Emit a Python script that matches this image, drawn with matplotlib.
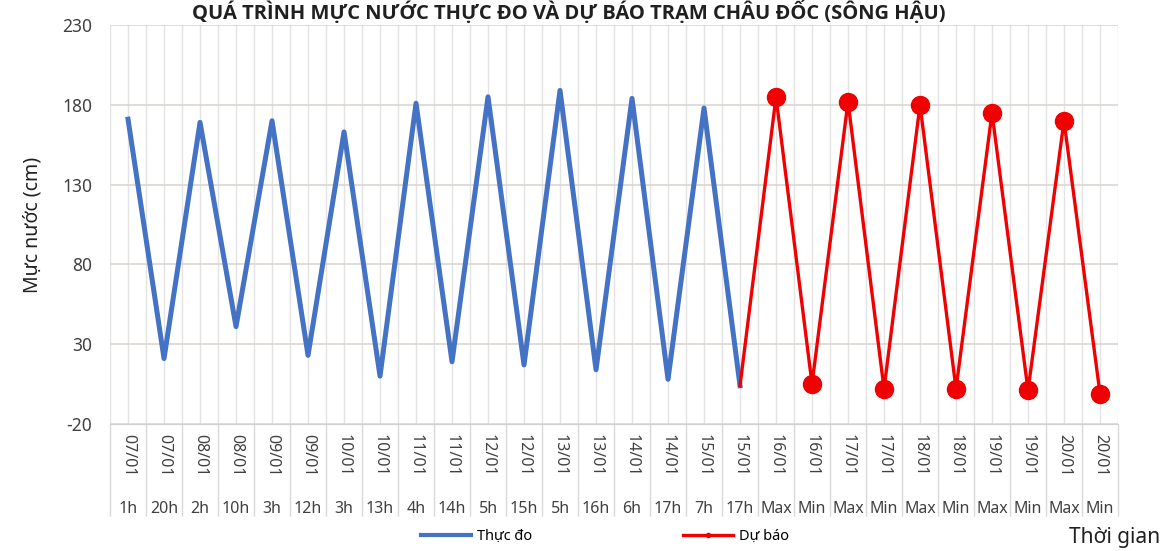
import numpy as np
import matplotlib.pyplot as plt
from matplotlib.lines import Line2D

plt.rcParams['font.family'] = ['Noto Sans', 'DejaVu Sans']
plt.rcParams['axes.unicode_minus'] = False

# categories: two level axis (date / hour)
dates = ['07/01', '07/01', '08/01', '08/01', '09/01', '09/01', '10/01', '10/01',
         '11/01', '11/01', '12/01', '12/01', '13/01', '13/01', '14/01', '14/01',
         '15/01', '15/01', '16/01', '16/01', '17/01', '17/01', '18/01', '18/01',
         '19/01', '19/01', '20/01', '20/01']
hours = ['1h', '20h', '2h', '10h', '3h', '12h', '3h', '13h', '4h', '14h', '5h', '15h',
         '5h', '16h', '6h', '17h', '7h', '17h', 'Max', 'Min', 'Max', 'Min', 'Max', 'Min',
         'Max', 'Min', 'Max', 'Min']

# observed water level (cm)
thuc_do = [171, 21, 169, 41, 170, 23, 163, 10, 181, 19, 185, 17, 189, 14, 184, 8, 178, 4]
# forecast water level (cm)
du_bao = [185, 5, 182, 2, 180, 2, 175, 1, 170, -1]

n_obs = len(thuc_do)
x_obs = np.arange(n_obs)
# forecast line starts from the last observed point
x_fc = np.arange(n_obs - 1, n_obs + len(du_bao))
y_fc = [thuc_do[-1]] + du_bao

fig = plt.figure(figsize=(11.68, 5.51), dpi=100)
ax = fig.add_axes([0.0942, 0.2305, 0.863, 0.7241])

ax.plot(x_obs, thuc_do, color='#4472C4', lw=3.6, solid_joinstyle='round', zorder=3)
ax.plot(x_fc, y_fc, color='#F00000', lw=2.4, marker='o', ms=13,
        markevery=list(range(1, len(y_fc))), zorder=4)

ax.set_xlim(-0.5, len(dates) - 0.5)
ax.set_ylim(-20, 230)
ax.set_yticks(np.arange(-20, 231, 50))

# boundaries as major ticks (long divider lines), centres as minor ticks carrying dates
ax.set_xticks(np.arange(-0.5, len(dates), 1.0))
ax.set_xticklabels([])
ax.set_xticks(np.arange(len(dates)), minor=True)
ax.set_xticklabels(dates, minor=True, rotation=-90, fontsize=11.5, color='#404040')
ax.tick_params(axis='x', which='major', length=66, color='#d9d9d9', width=1)
ax.tick_params(axis='x', which='minor', length=0, pad=7)
ax.tick_params(axis='y', length=0, pad=13, labelsize=12.5, labelcolor='#404040')

for i, h in enumerate(hours):
    ax.text(i, -0.212, h, transform=ax.get_xaxis_transform(), ha='center', va='center',
            fontsize=11.5, color='#404040')

ax.grid(axis='x', which='both', color='#e3e3e3', lw=1)
ax.grid(axis='y', which='major', color='#dcd6d0', lw=1.2)
ax.set_axisbelow(True)
for s in ['top', 'right', 'left']:
    ax.spines[s].set_visible(False)
ax.spines['bottom'].set_color('#d0d0d0')

ax.set_ylabel('Mực nước (cm)', fontsize=14, color='#202020', labelpad=14)

fig.text(0.487, 0.999, 'QUÁ TRÌNH MỰC NƯỚC THỰC ĐO VÀ DỰ BÁO TRẠM CHÂU ĐỐC (SÔNG HẬU)',
         ha='center', va='top', fontsize=14.5, fontweight='bold', color='#202020',
         family=['Open Sans', 'DejaVu Sans'])
fig.text(0.993, 0.024, 'Thời gian', ha='right', va='center', fontsize=15, color='#202020')

handles = [Line2D([], [], color='#4472C4', lw=3),
           Line2D([], [], color='#F00000', lw=2.4, marker='o', ms=3)]
fig.legend(handles, ['Thực đo', 'Dự báo'], loc='center', bbox_to_anchor=(0.518, 0.027),
           ncol=2, frameon=False, fontsize=10.5, handlelength=3.4, handletextpad=0.4,
           columnspacing=10.4)

fig.savefig('out.png', dpi=100)
